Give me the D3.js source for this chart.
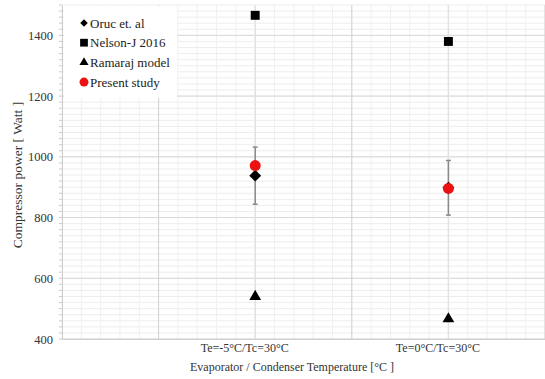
<!DOCTYPE html>
<html>
<head>
<meta charset="utf-8">
<script src="https://cdn.jsdelivr.net/npm/d3@7"></script>
<style>
  body { margin: 0; background: #fff; }
  svg { display: block; }
</style>
</head>
<body>
<svg id="chart" width="545" height="379"></svg>
<script>
// categories and series values (Watt)
const categories = ['Te=-5°C/Tc=30°C', 'Te=0°C/Tc=30°C'];
const oruc = [938, 898];
const orucErr = [94, 90];
const nelson = [1466, 1380];
const ramaraj = [540, 466];
const present = [971, 896];
const yTicks = [400, 600, 800, 1000, 1200, 1400];

const serif = '"Liberation Serif", "Times New Roman", "DejaVu Serif", serif';
const svg = d3.select('#chart');
const margin = { left: 62, right: 0, top: 5, bottom: 40 };
const width = 545, height = 379;

const x = d3.scaleLinear().domain([0, 2.5]).range([margin.left, width - margin.right]);
const y = d3.scaleLinear().domain([400, 1500]).range([height - margin.bottom, margin.top]);

const g = svg.append('g');

// minor grid
g.append('g').selectAll('line')
    .data(d3.range(400, 1501, 20))
    .join('line')
    .attr('x1', x(0)).attr('x2', x(2.5))
    .attr('y1', d => y(d)).attr('y2', d => y(d))
    .attr('stroke', '#ededed').attr('stroke-width', 1);
g.append('g').selectAll('line')
    .data(d3.range(0, 2.51, 0.1))
    .join('line')
    .attr('x1', d => x(d)).attr('x2', d => x(d))
    .attr('y1', y(400)).attr('y2', y(1500))
    .attr('stroke', '#f0f0f0').attr('stroke-width', 1);

// major grid
g.append('g').selectAll('line')
    .data(d3.range(400, 1501, 200))
    .join('line')
    .attr('x1', x(0)).attr('x2', x(2.5))
    .attr('y1', d => y(d)).attr('y2', d => y(d))
    .attr('stroke', '#d8d8d8').attr('stroke-width', 1);
g.append('g').selectAll('line')
    .data([0.5, 1.5, 2.5])
    .join('line')
    .attr('x1', d => x(d)).attr('x2', d => x(d))
    .attr('y1', y(400)).attr('y2', y(1500))
    .attr('stroke', '#d2d2d2').attr('stroke-width', 1);
g.append('g').selectAll('line')
    .data([1, 2])
    .join('line')
    .attr('x1', d => x(d)).attr('x2', d => x(d))
    .attr('y1', y(400)).attr('y2', y(1500))
    .attr('stroke', '#e2e2e2').attr('stroke-width', 1.5);

// axes
const yAxis = g.append('g')
    .attr('transform', `translate(${margin.left},0)`)
    .call(d3.axisLeft(y).tickValues(yTicks).tickFormat(d3.format('d')).tickSize(0).tickPadding(9));
yAxis.select('.domain').attr('stroke', '#cfcfcf');
yAxis.selectAll('text').attr('font-size', 12.5).attr('fill', '#333');
// small minor ticks on y axis
g.append('g').selectAll('line')
    .data(d3.range(400, 1501, 20))
    .join('line')
    .attr('x1', margin.left - 3).attr('x2', margin.left)
    .attr('y1', d => y(d)).attr('y2', d => y(d))
    .attr('stroke', '#ccc');

const xAxis = g.append('g')
    .attr('transform', `translate(0,${y(400)})`)
    .call(d3.axisBottom(x).tickValues([1, 2]).tickFormat((d, i) => categories[i]).tickSize(0).tickPadding(4));
xAxis.select('.domain').attr('stroke', '#cfcfcf');
xAxis.selectAll('text').attr('font-size', 12).attr('fill', '#333').attr('dx', -11);

// axis titles
svg.append('text')
    .attr('x', 292).attr('y', 371)
    .attr('text-anchor', 'middle').attr('font-size', 12).attr('fill', '#333')
    .text('Evaporator / Condenser Temperature [°C ]');
svg.append('text')
    .attr('transform', `translate(22,${y(940)}) rotate(-90)`)
    .attr('text-anchor', 'middle').attr('font-size', 13.5).attr('fill', '#333')
    .text('Compressor power [ Watt ]');

// error bars (Oruc)
const eb = g.append('g').attr('stroke', '#8a8a8a').attr('stroke-width', 1.5);
oruc.forEach((v, i) => {
    const cx = x(i + 1);
    eb.append('line').attr('x1', cx).attr('x2', cx)
        .attr('y1', y(v - orucErr[i])).attr('y2', y(v + orucErr[i]));
    [v - orucErr[i], v + orucErr[i]].forEach(e => {
        eb.append('line').attr('x1', cx - 2.5).attr('x2', cx + 2.5)
            .attr('y1', y(e)).attr('y2', y(e));
    });
});

// markers
const sym = (type, size) => d3.symbol().type(type).size(size)();
const marks = g.append('g');
marks.selectAll('.nel').data(nelson).join('path')
    .attr('transform', (d, i) => `translate(${x(i + 1)},${y(d)})`)
    .attr('d', sym(d3.symbolSquare, 80)).attr('fill', '#000');
marks.selectAll('.ram').data(ramaraj).join('path')
    .attr('transform', (d, i) => `translate(${x(i + 1)},${y(d)})`)
    .attr('d', sym(d3.symbolTriangle, 60)).attr('fill', '#000');
marks.selectAll('.oruc').data(oruc).join('path')
    .attr('transform', (d, i) => `translate(${x(i + 1)},${y(d)}) rotate(45)`)
    .attr('d', sym(d3.symbolSquare, 70)).attr('fill', '#000');
marks.selectAll('.pres').data(present).join('circle')
    .attr('cx', (d, i) => x(i + 1)).attr('cy', d => y(d))
    .attr('r', 5.5).attr('fill', '#ee1111');

// legend
const legendItems = [
    { label: 'Oruc et. al', kind: 'diamond' },
    { label: 'Nelson-J 2016', kind: 'square' },
    { label: 'Ramaraj model', kind: 'triangle' },
    { label: 'Present study', kind: 'circle' }
];
const lg = svg.append('g');
lg.append('rect').attr('x', 64).attr('y', 6).attr('width', 113).attr('height', 92)
    .attr('fill', '#fff');
legendItems.forEach((d, i) => {
    const ly = 23 + i * 19.7;
    const item = lg.append('g').attr('transform', `translate(84,${ly})`);
    if (d.kind === 'diamond') item.append('path').attr('d', sym(d3.symbolSquare, 28)).attr('transform', 'rotate(45)').attr('fill', '#000');
    if (d.kind === 'square') item.append('path').attr('d', sym(d3.symbolSquare, 60)).attr('fill', '#000');
    if (d.kind === 'triangle') item.append('path').attr('d', sym(d3.symbolTriangle, 36)).attr('fill', '#000');
    if (d.kind === 'circle') item.append('circle').attr('r', 4.5).attr('fill', '#ee1111');
    lg.append('text').attr('x', 90).attr('y', ly + 4.5)
        .attr('font-size', 13).attr('fill', '#222').text(d.label);
});

// serif type everywhere, as in the original figure
svg.selectAll('text').attr('font-family', null).style('font-family', serif);
</script>
</body>
</html>
